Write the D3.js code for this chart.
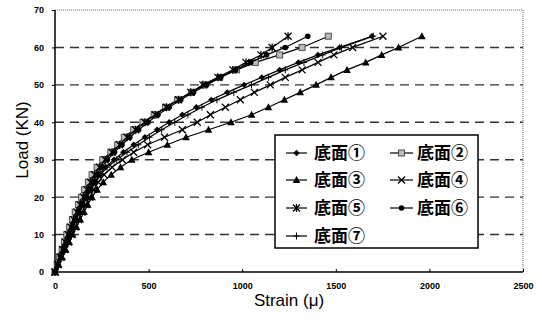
<!DOCTYPE html>
<html><head><meta charset="utf-8">
<script src="https://cdn.jsdelivr.net/npm/d3@7"></script>
<style>body{margin:0;background:#fff}svg{display:block}</style>
</head><body>
<svg id="c" width="542" height="321"></svg>
<script>
const loads = [0,2,4,6,8,10,12,14,16,18,20,22,24,26,28,30,32,34,36,38,40,42,44,46,48,50,52,54,56,58,60,63];
const s1 = [0,15,31,47,63,79,95,112,130,148,167,188,212,238,270,315,365,420,480,545,610,680,755,835,920,1010,1105,1200,1300,1405,1520,1693];
const s2 = [0,12,25,38,50,63,78,93,108,125,142,158,178,198,225,255,298,335,370,420,470,530,590,655,730,800,880,970,1070,1200,1320,1460];
const s3 = [0,19,38,57,76,95,115,135,155,175,198,225,258,300,350,410,500,600,700,820,940,1050,1140,1225,1310,1395,1475,1560,1660,1745,1835,1960];
const s4 = [0,17,35,53,71,89,107,125,144,164,185,207,232,262,305,360,420,495,585,680,760,830,910,990,1065,1150,1230,1320,1405,1490,1590,1752];
const s5 = [0,14,28,42,55,70,85,100,117,134,152,170,190,212,238,268,305,345,385,430,480,535,595,660,725,790,870,950,1020,1100,1160,1245];
const s6 = [0,15,30,45,60,75,90,107,124,142,160,180,200,224,250,280,318,358,400,447,497,550,610,672,740,810,885,965,1045,1130,1230,1350];
const s7 = [0,16,32,48,64,80,97,115,133,152,172,194,218,245,278,330,385,445,505,570,640,710,785,865,955,1050,1140,1230,1330,1430,1530,1700];
const seriesNames = ["底面①","底面②","底面③","底面④","底面⑤","底面⑥","底面⑦"];
const markerKinds = ["diamond","square","triangle","x","star","circle","plus"];
const xTicks = [0,500,1000,1500,2000,2500];
const yTicks = [0,10,20,30,40,50,60,70];
const xTitle = "Strain (μ)";
const yTitle = "Load (KN)";

const svg = d3.select("#c");
const x = d3.scaleLinear().domain([0,2500]).range([55,523]);
const y = d3.scaleLinear().domain([0,70]).range([272,10]);
const seriesData = [s1,s2,s3,s4,s5,s6,s7].map(s => s.map((v,i)=>[v,loads[i]]));

// grid
svg.append("g").selectAll("line").data(yTicks.filter(t=>t>0&&t<70)).join("line")
  .attr("x1",x(0)).attr("x2",x(2500)).attr("y1",d=>y(d)).attr("y2",d=>y(d))
  .attr("stroke","#333").attr("stroke-width",1.4).attr("stroke-dasharray","9,6");
// top/right dotted frame
svg.append("line").attr("x1",x(0)).attr("x2",x(2500)).attr("y1",y(70)).attr("y2",y(70))
  .attr("stroke","#666").attr("stroke-width",1).attr("stroke-dasharray","1,1");
svg.append("line").attr("x1",x(2500)).attr("x2",x(2500)).attr("y1",y(70)).attr("y2",y(0))
  .attr("stroke","#666").attr("stroke-width",1).attr("stroke-dasharray","1,1");

// axes
const xAxis = d3.axisBottom(x).tickValues(xTicks).tickSize(-3).tickPadding(11).tickFormat(d3.format("d"));
const gx = svg.append("g").attr("transform",`translate(0,${y(0)})`).call(xAxis);
const yAxis = d3.axisLeft(y).tickValues(yTicks).tickSize(3).tickPadding(8).tickFormat(d3.format("d"));
const gy = svg.append("g").attr("transform",`translate(${x(0)},0)`).call(yAxis);
[gx,gy].forEach(g=>{
  g.select(".domain").attr("stroke","#000").attr("stroke-width",1.5);
  g.selectAll(".tick line").attr("stroke","#000");
  g.selectAll("text").attr("font-family","Liberation Sans, Arial, sans-serif")
   .attr("font-weight","bold").attr("font-size",9).attr("fill","#000");
});
gx.select(".domain").attr("d",`M${x(0)},0H${x(2500)}`);
gy.select(".domain").attr("d",`M0,${y(0)}V${y(70)}`);

// titles
svg.append("text").attr("x",289).attr("y",306).attr("text-anchor","middle")
  .attr("font-family","Liberation Sans, Arial, sans-serif").attr("font-size",17).text(xTitle);
svg.append("text").attr("transform","translate(28,140) rotate(-90)").attr("text-anchor","middle")
  .attr("font-family","Liberation Sans, Arial, sans-serif").attr("font-size",17).text(yTitle);

function drawMarker(g, kind, cx, cy, scale=1){
  const k = scale;
  if(kind==="diamond"){
    g.append("path").attr("d",`M${cx},${cy-3.2*k}L${cx+3.2*k},${cy}L${cx},${cy+3.2*k}L${cx-3.2*k},${cy}Z`).attr("fill","#000");
  } else if(kind==="square"){
    g.append("rect").attr("x",cx-3*k).attr("y",cy-3*k).attr("width",6*k).attr("height",6*k)
      .attr("fill","#bbb").attr("stroke","#444").attr("stroke-width",0.9);
  } else if(kind==="triangle"){
    g.append("path").attr("d",`M${cx},${cy-4*k}L${cx+3.8*k},${cy+3*k}L${cx-3.8*k},${cy+3*k}Z`).attr("fill","#000");
  } else if(kind==="x"){
    g.append("path").attr("d",`M${cx-3.5*k},${cy-3.5*k}L${cx+3.5*k},${cy+3.5*k}M${cx+3.5*k},${cy-3.5*k}L${cx-3.5*k},${cy+3.5*k}`)
      .attr("stroke","#000").attr("stroke-width",1.3);
  } else if(kind==="star"){
    g.append("path").attr("d",`M${cx-3.5*k},${cy-3.5*k}L${cx+3.5*k},${cy+3.5*k}M${cx+3.5*k},${cy-3.5*k}L${cx-3.5*k},${cy+3.5*k}M${cx},${cy-4*k}V${cy+4*k}`)
      .attr("stroke","#000").attr("stroke-width",1.3);
  } else if(kind==="circle"){
    g.append("circle").attr("cx",cx).attr("cy",cy).attr("r",2.8*k).attr("fill","#000");
  } else if(kind==="plus"){
    g.append("path").attr("d",`M${cx},${cy-3.5*k}V${cy+3.5*k}M${cx-3*k},${cy}H${cx+3*k}`)
      .attr("stroke","#000").attr("stroke-width",1);
  }
}

const line = d3.line().x(d=>x(d[0])).y(d=>y(d[1]));
seriesData.forEach((data,i)=>{
  const g = svg.append("g");
  g.append("path").datum(data).attr("d",line).attr("fill","none").attr("stroke","#000").attr("stroke-width",1.2);
  data.forEach(d=>drawMarker(g, markerKinds[i], x(d[0]), y(d[1])));
});

// legend
const lg = svg.append("g");
lg.append("rect").attr("x",275).attr("y",135).attr("width",203).attr("height",113)
  .attr("fill","#fff").attr("stroke","#000").attr("stroke-width",1.5);
const rowY = [153,180,208,236];
const colX = [[286,307,314],[390,413,417]];
seriesNames.forEach((name,i)=>{
  const r = Math.floor(i/2), c = i%2;
  const [l0,l1,tx] = colX[c];
  const yy = rowY[r];
  lg.append("line").attr("x1",l0).attr("x2",l1).attr("y1",yy).attr("y2",yy).attr("stroke","#000").attr("stroke-width",1.2);
  drawMarker(lg, markerKinds[i], (l0+l1)/2, yy);
  lg.append("text").attr("x",tx).attr("y",yy+6).attr("font-family","Noto Sans CJK JP, sans-serif")
    .attr("font-weight","bold").attr("font-size",17).text(name);
});
</script>
</body></html>
